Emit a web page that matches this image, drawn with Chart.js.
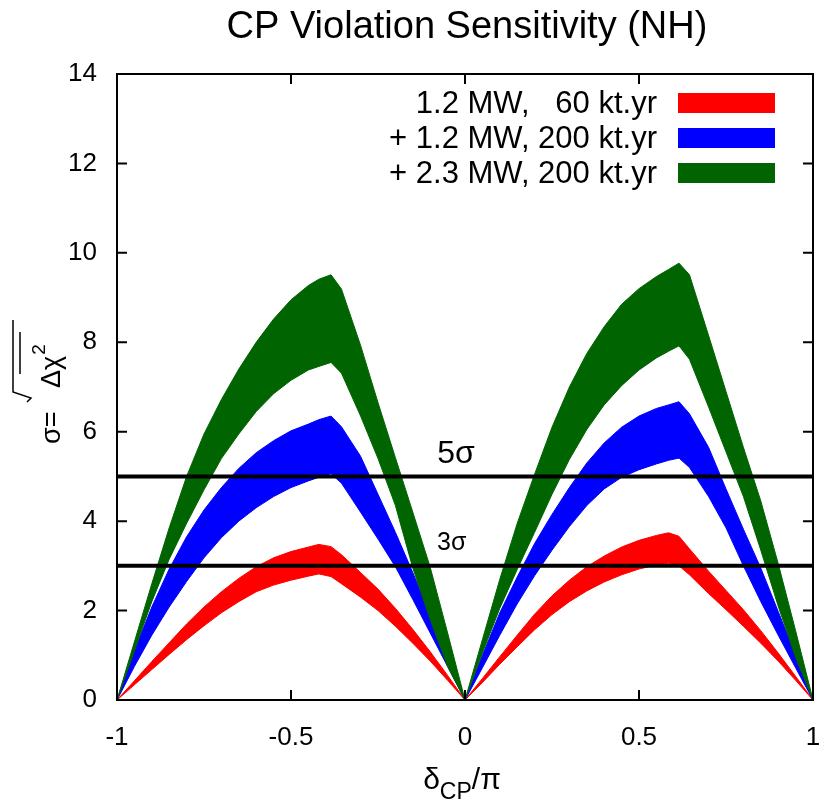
<!DOCTYPE html>
<html>
<head>
<meta charset="utf-8">
<script src="https://cdn.jsdelivr.net/npm/chart.js@4.4.0/dist/chart.umd.min.js"></script>
<style>
  html, body { margin: 0; padding: 0; background: #fff; }
  #wrap { width: 819px; height: 810px; }
</style>
</head>
<body>
<div id="wrap"><canvas id="cpChart" width="819" height="810"></canvas></div>
<script>
"use strict";

// delta_CP / pi sample points (shared by all bands)
const deltaCP = [-1, -0.95, -0.9, -0.85, -0.8, -0.75, -0.7, -0.65, -0.6, -0.55, -0.5, -0.45, -0.42, -0.385, -0.355, -0.3, -0.25, -0.2, -0.15, -0.1, -0.05, 0,
                 0.05, 0.1, 0.15, 0.2, 0.25, 0.3, 0.35, 0.4, 0.45, 0.5, 0.55, 0.585, 0.615, 0.645, 0.7, 0.75, 0.8, 0.85, 0.9, 0.95, 1];

// 1.2 MW, 60 kt.yr
const redHigh = [0, 0.43, 0.86, 1.28, 1.7, 2.08, 2.42, 2.72, 2.98, 3.18, 3.32, 3.42, 3.48, 3.43, 3.25, 2.85, 2.48, 2.05, 1.58, 1.08, 0.55, 0,
                 0.48, 0.97, 1.45, 1.92, 2.33, 2.68, 2.98, 3.22, 3.42, 3.57, 3.68, 3.74, 3.66, 3.38, 2.88, 2.45, 2.02, 1.55, 1.05, 0.53, 0];
const redLow  = [0, 0.34, 0.68, 1.02, 1.35, 1.66, 1.95, 2.2, 2.42, 2.57, 2.68, 2.77, 2.82, 2.76, 2.6, 2.3, 2.0, 1.65, 1.27, 0.87, 0.44, 0,
                 0.39, 0.8, 1.19, 1.57, 1.91, 2.2, 2.44, 2.64, 2.8, 2.93, 3.02, 3.06, 3.0, 2.8, 2.38, 2.02, 1.65, 1.27, 0.87, 0.44, 0];

// + 1.2 MW, 200 kt.yr
const blueHigh = [0, 1.1, 2.08, 2.93, 3.65, 4.25, 4.75, 5.18, 5.53, 5.8, 6.02, 6.17, 6.27, 6.35, 6.11, 5.45, 4.6, 3.75, 2.85, 1.9, 0.95, 0,
                  1.0, 1.95, 2.75, 3.5, 4.15, 4.75, 5.3, 5.75, 6.1, 6.35, 6.52, 6.6, 6.67, 6.4, 5.65, 4.72, 3.82, 2.95, 1.98, 1.0, 0];
const blueLow  = [0, 0.75, 1.45, 2.08, 2.65, 3.18, 3.63, 4.0, 4.3, 4.55, 4.75, 4.9, 4.98, 5.06, 4.85, 4.2, 3.6, 2.98, 2.25, 1.5, 0.75, 0,
                  0.72, 1.45, 2.15, 2.78, 3.35, 3.88, 4.35, 4.72, 4.98, 5.15, 5.28, 5.36, 5.41, 5.2, 4.55, 3.85, 3.0, 2.2, 1.45, 0.72, 0];

// + 2.3 MW, 200 kt.yr
const greenHigh = [0, 1.3, 2.6, 3.85, 5.0, 5.95, 6.72, 7.4, 8.0, 8.52, 8.95, 9.27, 9.41, 9.51, 9.19, 7.93, 6.65, 5.42, 4.2, 2.97, 1.5, 0,
                   1.35, 2.7, 3.95, 5.05, 6.1, 7.0, 7.75, 8.35, 8.85, 9.2, 9.47, 9.63, 9.77, 9.51, 8.15, 6.9, 5.65, 4.45, 3.05, 1.55, 0];
const greenLow  = [0, 1.1, 2.2, 3.15, 3.95, 4.7, 5.4, 5.95, 6.45, 6.85, 7.15, 7.38, 7.46, 7.55, 7.31, 6.35, 5.4, 4.35, 2.95, 1.8, 0.75, 0,
                   1.05, 2.05, 2.92, 3.75, 4.6, 5.38, 6.05, 6.6, 7.03, 7.38, 7.65, 7.8, 7.92, 7.62, 6.55, 5.55, 4.55, 3.35, 2.1, 0.95, 0];

const sigmaLevels = [5, 3];
const sigmaLabels = ['5σ', '3σ'];
const legendLabels = ['1.2 MW,   60 kt.yr', '+ 1.2 MW, 200 kt.yr', '+ 2.3 MW, 200 kt.yr'];
const bandColors = ['#ff0000', '#0000ff', '#006400'];
const xTicks = [-1, -0.5, 0, 0.5, 1];
const yTicks = [0, 2, 4, 6, 8, 10, 12, 14];

const FONT = '"Liberation Sans", Arial, sans-serif';

function toPoints(values) {
    return deltaCP.map((x, i) => ({ x: x, y: values[i] }));
}

function bandPair(high, low, color) {
    return [
        { data: toPoints(high), borderColor: color, backgroundColor: color, borderWidth: 1, fill: '+1' },
        { data: toPoints(low), borderColor: color, backgroundColor: color, borderWidth: 1, fill: false }
    ];
}

// horizontal 5 sigma / 3 sigma lines (first datasets are drawn on top)
const sigmaDatasets = sigmaLevels.map(level => ({
    data: [{ x: xTicks[0], y: level }, { x: xTicks[xTicks.length - 1], y: level }],
    borderColor: '#000', borderWidth: 4, fill: false
}));

const datasets = [
    ...sigmaDatasets,
    ...bandPair(greenHigh, greenLow, bandColors[2]),
    ...bandPair(blueHigh, blueLow, bandColors[1]),
    ...bandPair(redHigh, redLow, bandColors[0])
];

/**
 * Frame, mirrored inward ticks, title, axis titles, key and sigma labels.
 */
const decorPlugin = {
    id: 'decor',
    afterDraw(chart) {
        const { ctx, chartArea: a, scales: { x, y } } = chart;
        ctx.save();
        ctx.strokeStyle = '#000';
        ctx.fillStyle = '#000';

        // frame
        ctx.lineWidth = 2;
        ctx.strokeRect(a.left, a.top, a.right - a.left, a.bottom - a.top);

        // inward ticks on every side
        const tl = 10;
        ctx.beginPath();
        xTicks.forEach(v => {
            const px = x.getPixelForValue(v);
            ctx.moveTo(px, a.bottom); ctx.lineTo(px, a.bottom - tl);
            ctx.moveTo(px, a.top); ctx.lineTo(px, a.top + tl);
        });
        yTicks.forEach(v => {
            const py = y.getPixelForValue(v);
            ctx.moveTo(a.left, py); ctx.lineTo(a.left + tl, py);
            ctx.moveTo(a.right, py); ctx.lineTo(a.right - tl, py);
        });
        ctx.stroke();

        // title
        ctx.textAlign = 'center';
        ctx.textBaseline = 'alphabetic';
        ctx.font = `38px ${FONT}`;
        ctx.fillText('CP Violation Sensitivity (NH)', 467, 38);

        // sigma labels
        ctx.font = `32px ${FONT}`;
        ctx.fillText(sigmaLabels[0], x.getPixelForValue(-0.026), y.getPixelForValue(sigmaLevels[0] + 0.3));
        ctx.font = `25px ${FONT}`;
        ctx.fillText(sigmaLabels[1], x.getPixelForValue(-0.038), y.getPixelForValue(sigmaLevels[1] + 0.35));

        // key
        ctx.font = `31px ${FONT}`;
        ctx.textAlign = 'right';
        ctx.textBaseline = 'middle';
        const rowY = [103, 138, 173];
        legendLabels.forEach((label, i) => {
            ctx.fillStyle = '#000';
            ctx.fillText(label, 657, rowY[i] + 1);
            ctx.fillStyle = bandColors[i];
            ctx.fillRect(678, rowY[i] - 10, 97, 20);
        });

        // x axis title: delta_CP / pi
        ctx.fillStyle = '#000';
        ctx.textAlign = 'left';
        ctx.textBaseline = 'alphabetic';
        const bigX = `30px ${FONT}`, subX = `23px ${FONT}`;
        ctx.font = bigX;
        const wd = ctx.measureText('δ').width;
        const wp = ctx.measureText('/π').width;
        ctx.font = subX;
        const wc = ctx.measureText('CP').width;
        let cx = 462 - (wd + wc + wp) / 2;
        ctx.font = bigX;
        ctx.fillText('δ', cx, 789);
        cx += wd;
        ctx.font = subX;
        ctx.fillText('CP', cx, 799);
        cx += wc;
        ctx.font = bigX;
        ctx.fillText('/π', cx, 789);

        // y axis title: sigma = sqrt(delta chi^2), rotated
        ctx.translate(60, 444);
        ctx.rotate(-Math.PI / 2);
        ctx.font = `27px ${FONT}`;
        ctx.fillText('σ=', 0, 0);
        ctx.fillText('Δχ', 56, 0);
        const wdc = ctx.measureText('Δχ').width;
        ctx.font = `19px ${FONT}`;
        ctx.fillText('2', 56 + wdc + 1, -15);
        ctx.lineWidth = 1.5;
        ctx.beginPath();
        ctx.moveTo(42, -33);
        ctx.lineTo(46, -29);
        ctx.lineTo(52, -47);
        ctx.lineTo(124, -47);
        ctx.moveTo(70, -40);
        ctx.lineTo(112, -40);
        ctx.stroke();

        ctx.restore();
    }
};

const ctx = document.getElementById('cpChart').getContext('2d');
new Chart(ctx, {
    type: 'line',
    data: { datasets },
    options: {
        responsive: false,
        animation: false,
        devicePixelRatio: 1,
        layout: { padding: { top: 74, right: 6, left: 0, bottom: 0 } },
        plugins: {
            legend: { display: false },
            tooltip: { enabled: false },
            title: { display: false }
        },
        elements: { point: { radius: 0 }, line: { tension: 0 } },
        scales: {
            x: {
                type: 'linear',
                min: -1,
                max: 1,
                afterBuildTicks: s => { s.ticks = xTicks.map(v => ({ value: v })); },
                afterFit: s => { s.height = 110; s.paddingLeft = 0; s.paddingRight = 0; },
                grid: { display: false, drawTicks: false },
                border: { display: false },
                ticks: {
                    color: '#000', padding: 22, maxRotation: 0,
                    font: { family: FONT, size: 26 },
                    callback: v => String(v)
                }
            },
            y: {
                type: 'linear',
                min: 0,
                max: 14,
                afterBuildTicks: s => { s.ticks = yTicks.map(v => ({ value: v })); },
                afterFit: s => { s.width = 117; s.paddingTop = 0; s.paddingBottom = 0; },
                grid: { display: false, drawTicks: false },
                border: { display: false },
                ticks: { color: '#000', padding: 20, font: { family: FONT, size: 26 } }
            }
        }
    },
    plugins: [decorPlugin]
});
</script>
</body>
</html>
